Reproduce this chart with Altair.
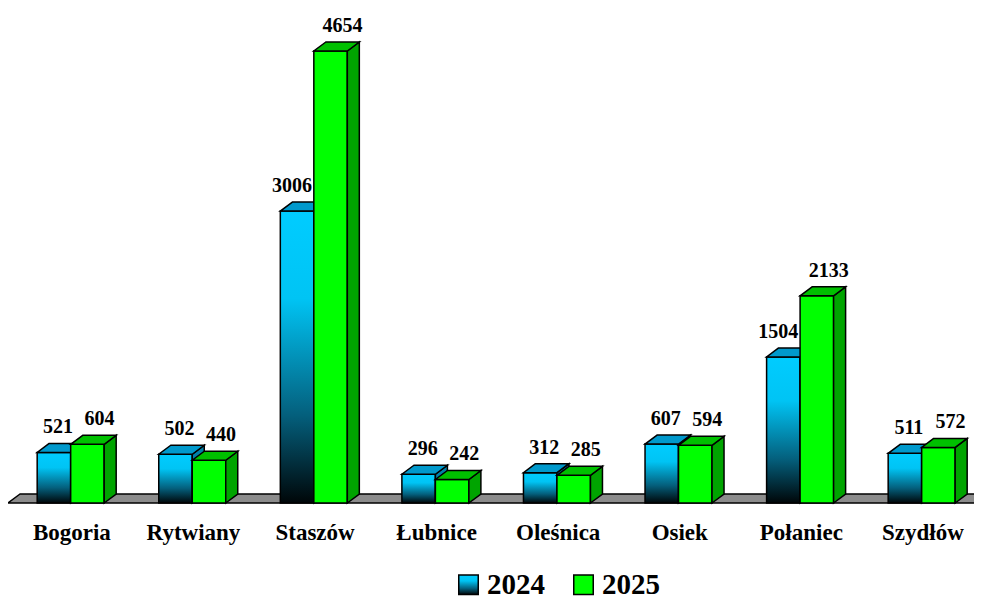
import altair as alt
import pandas as pd

categories = ["Bogoria", "Rytwiany", "Staszów", "Łubnice", "Oleśnica", "Osiek", "Połaniec", "Szydłów"]
v2024 = [521, 502, 3006, 296, 312, 607, 1504, 511]
v2025 = [604, 440, 4654, 242, 285, 594, 2133, 572]
series_names = ["2024", "2025"]

# style constants
PX_PER_X = 121.57
BAR_W = 33.5 / PX_PER_X
DEPTH_X = 12 / PX_PER_X
YMAX = 5097
DEPTH_Y = 9 / (495 / YMAX)
X0 = -0.0156
X1 = X0 + 966 / PX_PER_X

front_rows, side_rows, top_rows, label_rows, cat_rows = [], [], [], [], []
for i, cat in enumerate(categories):
    c = i + 0.5
    cat_rows.append({"cat": cat, "x": c + 0.01, "y": 0})
    for s, vals in zip(series_names, [v2024, v2025]):
        v = vals[i]
        xl = c - BAR_W if s == "2024" else c
        xr = xl + BAR_W
        key = f"{s}-{i}"
        front_rows.append({"series": s, "x": xl, "x2": xr, "v": v})
        side_rows += [
            {"series": s, "key": key, "x": xr, "y": 0, "y2": v},
            {"series": s, "key": key, "x": xr + DEPTH_X, "y": DEPTH_Y, "y2": v + DEPTH_Y},
        ]
        top_rows += [
            {"series": s, "key": key, "y": v, "x": xl, "x2": xr},
            {"series": s, "key": key, "y": v + DEPTH_Y, "x": xl + DEPTH_X, "x2": xr + DEPTH_X},
        ]
        if s == "2024":
            other = v2025[i]
            off = -5 if other - v > 600 else 4
        else:
            off = 12
        label_rows.append({"series": s, "x": (xl + xr) / 2 + off / PX_PER_X, "v": v, "label": str(v)})

front = pd.DataFrame(front_rows)
side = pd.DataFrame(side_rows)
top = pd.DataFrame(top_rows)
labels = pd.DataFrame(label_rows)
cats = pd.DataFrame(cat_rows)
floor = pd.DataFrame([
    {"key": "f", "y": 0, "x": X0, "x2": 8.3},
    {"key": "f", "y": DEPTH_Y, "x": X0 + DEPTH_X, "x2": 8.3 + DEPTH_X},
])

xs = alt.Scale(domain=[X0, X1], nice=False, zero=False)
ys = alt.Scale(domain=[0, YMAX], nice=False)

blue_grad_expr = ("{gradient:'linear',x1:0,y1:0,x2:0,y2:1,stops:["
                  "{offset:0,color:'#00ccff'},{offset:0.3,color:'#00c4f4'},"
                  "{offset:0.7,color:'#045f7c'},{offset:1,color:'#000608'}]}")

color_scale = alt.Scale(domain=series_names, range=[alt.ExprRef(blue_grad_expr), "#00ff00"])

floor_layer = alt.Chart(floor).mark_area(
    orient="horizontal", fill="#8c8c8c", stroke="black", strokeWidth=1.5, clip=False
).encode(
    y=alt.Y("y:Q", scale=ys, axis=None),
    x=alt.X("x:Q", scale=xs, axis=None),
    x2="x2:Q",
    detail="key:N",
)

side_colors = {"2024": "#0080a8", "2025": "#00a400"}
top_colors = {"2024": "#0099cc", "2025": "#00c000"}

layers = [floor_layer]
for s in series_names:
    f = alt.Chart(front[front.series == s]).mark_rect(
        stroke="black", strokeWidth=1.5
    ).encode(
        x=alt.X("x:Q", scale=xs, axis=None),
        x2="x2:Q",
        y=alt.Y("v:Q", scale=ys, axis=None),
        y2=alt.datum(0),
        fill=alt.Fill("series:N", scale=color_scale, legend=alt.Legend(
            title=None, orient="none", legendX=446, legendY=562, direction="horizontal",
            symbolType="square", symbolSize=380, symbolStrokeColor="black",
            symbolStrokeWidth=1.5, symbolOpacity=1,
            labelFont="Liberation Serif", labelFontWeight="bold", labelFontSize=29,
            labelColor="black", labelOffset=4, columnPadding=24, padding=0,
        )),
    )
    sd = alt.Chart(side[side.series == s]).mark_area(
        fill=side_colors[s], stroke="black", strokeWidth=1.5
    ).encode(
        x=alt.X("x:Q", scale=xs, axis=None),
        y=alt.Y("y:Q", scale=ys, axis=None),
        y2="y2:Q",
        detail="key:N",
    )
    tp = alt.Chart(top[top.series == s]).mark_area(
        orient="horizontal", fill=top_colors[s], stroke="black", strokeWidth=1.5
    ).encode(
        y=alt.Y("y:Q", scale=ys, axis=None),
        x=alt.X("x:Q", scale=xs, axis=None),
        x2="x2:Q",
        detail="key:N",
    )
    layers += [f, sd, tp]

value_text = alt.Chart(labels).mark_text(
    font="Liberation Serif", fontWeight="bold", fontSize=20, color="black",
    baseline="alphabetic", align="center", dy=-19
).encode(
    x=alt.X("x:Q", scale=xs, axis=None),
    y=alt.Y("v:Q", scale=ys, axis=None),
    text="label:N",
)

cat_text = alt.Chart(cats).mark_text(
    font="Liberation Serif", fontWeight="bold", fontSize=23, color="black",
    baseline="alphabetic", align="center", dy=37
).encode(
    x=alt.X("x:Q", scale=xs, axis=None),
    y=alt.Y("y:Q", scale=ys, axis=None),
    text="cat:N",
)

layers += [value_text, cat_text]

chart = alt.layer(*layers).properties(
    width=966, height=495, autosize="none",
    padding={"left": 0, "top": 0, "right": 0, "bottom": 100},
    background="white",
).configure_view(stroke=None)

chart.save("out.html", embed_options={"renderer": "svg", "actions": False})
